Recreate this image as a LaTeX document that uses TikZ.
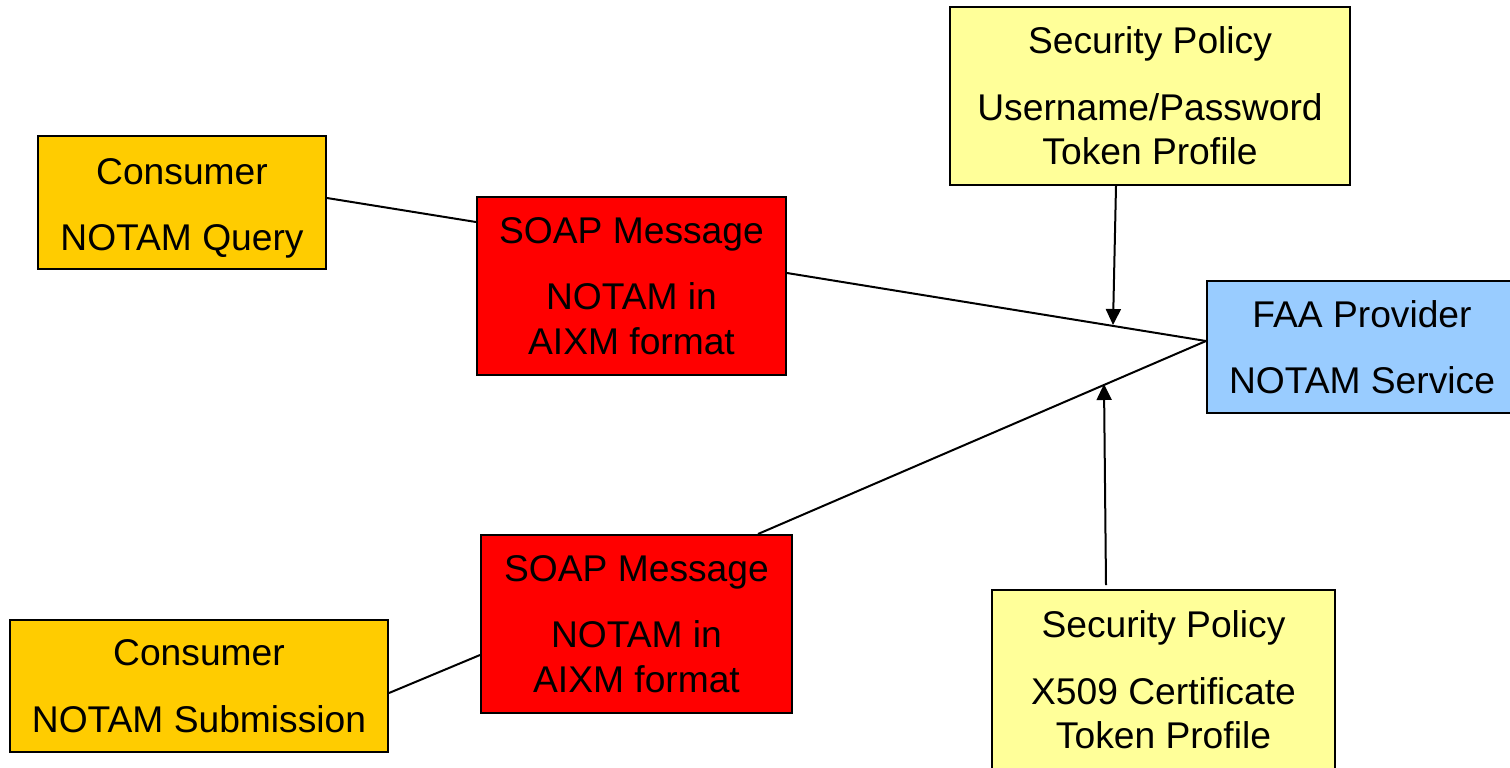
\documentclass[tikz,border=0pt]{standalone}
\usepackage{fontspec}
\setmainfont{Liberation Sans}
\usetikzlibrary{arrows.meta}
\definecolor{cons}{HTML}{FFCC00}
\definecolor{soap}{HTML}{FF0000}
\definecolor{secp}{HTML}{FFFF99}
\definecolor{prov}{HTML}{99CCFF}
\tikzset{
  box/.style={draw=black, line width=1pt, inner sep=0pt, align=center,
    font=\fontsize{18.6}{22.3}\selectfont},
  link/.style={line width=1pt},
  arr/.style={line width=1pt, -{Triangle[length=8pt,width=7.5pt]}},
}
\begin{document}
\begin{tikzpicture}[x=0.5pt,y=-0.5pt]
\useasboundingbox (0,0) rectangle (1510,767);
\node[box, fill=cons, minimum width=144pt, minimum height=66.5pt] (c1) at (182,202.5)
  {\rule{0pt}{19pt}Consumer\\[11pt]NOTAM Query};
\node[box, fill=soap, minimum width=154.5pt, minimum height=89pt] (s1) at (631.5,286)
  {SOAP Message\\[11pt]NOTAM in\\AIXM format};
\node[box, fill=secp, minimum width=200pt, minimum height=89pt] (sp1) at (1150,96)
  {Security Policy\\[11pt]Username/Password\\Token Profile};
\node[box, fill=prov, minimum width=155pt, minimum height=66pt] (faa) at (1362,347)
  {FAA Provider\\[11pt]NOTAM Service};
\node[box, fill=soap, minimum width=155.5pt, minimum height=89pt] (s2) at (636.5,624)
  {SOAP Message\\[11pt]NOTAM in\\AIXM format};
\node[box, fill=cons, minimum width=189pt, minimum height=66pt] (c2) at (199,686)
  {Consumer\\[11pt]NOTAM Submission};
\node[box, fill=secp, minimum width=171.5pt, minimum height=90pt] (sp2) at (1163.5,680)
  {Security Policy\\[11pt]X509 Certificate\\Token Profile};
\coordinate (m1) at (1113,325);
\coordinate (m2) at (1104,384);
\draw[link] ([yshift=2.25pt]c1.east) -- ([yshift=32pt]s1.west);
\draw[link] ([yshift=6.5pt]s1.east) -- ([yshift=3pt]faa.west);
\draw[link] ([xshift=60.75pt]s2.north) -- ([yshift=3pt]faa.west);
\draw[link] ([yshift=-3.5pt]c2.east) -- ([yshift=-15.5pt]s2.west);
\draw[arr] ([xshift=-17pt]sp1.south) -- (m1);
\draw[arr] ([xshift=-28.75pt,yshift=2pt]sp2.north) -- (m2);
\end{tikzpicture}
\end{document}
